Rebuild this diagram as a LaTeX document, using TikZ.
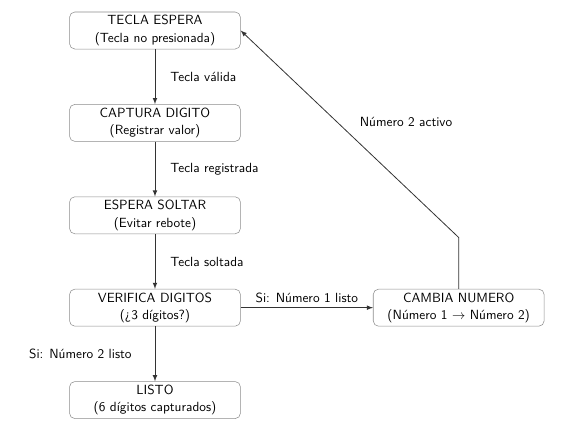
\documentclass[tikz,border=0pt]{standalone}
\usepackage{tikz}
\usetikzlibrary{arrows,positioning,calc}
\usepackage{amsmath,amssymb}

\tikzset{
  estado/.style={draw=black!45, rounded corners=4pt, align=center,
    minimum width=4.52cm, minimum height=0.98cm, inner ysep=1.5pt,
    font=\sffamily},
  flecha/.style={-latex, draw=black!80, semithick},
  etiqueta/.style={font=\sffamily}
}

\begin{document}
\begin{tikzpicture}
          \useasboundingbox (0,0) rectangle (15.37,-11.22);
          \node[estado] (espera) at (4.10,-0.807)
            {TECLA ESPERA\\[1pt](Tecla no presionada)};
          \node[estado, below=1.45cm of espera] (captura)
            {CAPTURA DIGITO\\[1pt](Registrar valor)};
          \node[estado, below=1.45cm of captura] (soltar)
            {ESPERA SOLTAR\\[1pt](Evitar rebote)};
          \node[estado, below=1.45cm of soltar] (verifica)
            {VERIFICA DIGITOS\\[1pt](¿3 dígitos?)};
          \node[estado, below=1.45cm of verifica] (listo)
            {LISTO\\[1pt](6 dígitos capturados)};
          \node[estado, right=3.5cm of verifica] (cambia)
            {CAMBIA NUMERO\\[1pt](Número 1 $\rightarrow$ Número 2)};
          \coordinate (codo) at ($(cambia.north)+(0,1.36)$);

          \draw[flecha] (espera) -- node[etiqueta, right=8pt] {Tecla válida} (captura);
          \draw[flecha] (captura) -- node[etiqueta, right=8pt] {Tecla registrada} (soltar);
          \draw[flecha] (soltar) -- node[etiqueta, right=8pt] {Tecla soltada} (verifica);
          \draw[flecha] (verifica) -- node[etiqueta, left=14pt] {Si: Número 2 listo} (listo);
          \draw[flecha] (verifica.east) -- node[etiqueta, above] {Si: Número 1 listo} (cambia.west);
          \draw[flecha] (cambia) -- (codo)
            -- node[etiqueta, above right=2pt and 4pt] {Número 2 activo} (espera.east);
        \end{tikzpicture}
\end{document}
